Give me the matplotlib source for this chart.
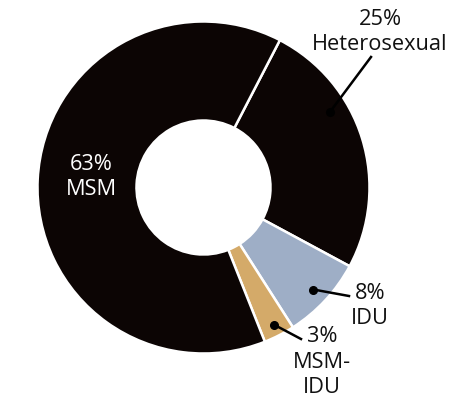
import matplotlib
matplotlib.use("Agg")
import matplotlib.pyplot as plt
import numpy as np

categories = ["Heterosexual", "IDU", "MSM-IDU", "MSM"]
values = [25, 8, 3, 63]
colors = ["#0c0504", "#9eaec6", "#d4aa69", "#0c0504"]

plt.rcParams['font.family'] = ['Open Sans', 'DejaVu Sans']

W, H = 462, 412
fig = plt.figure(figsize=(W / 100, H / 100), dpi=100)
ax = fig.add_axes([0, 0, 1, 1])

cx, cy = 203.5, H - 187.5
R, r_in = 166, 67
start = 62.6

wedges, _ = ax.pie(values, colors=colors, startangle=start, counterclock=False,
                   radius=R, center=(cx, cy), frame=True,
                   wedgeprops=dict(width=R - r_in, edgecolor='white', linewidth=1.8))
ax.set_xlim(0, W)
ax.set_ylim(0, H)
ax.set_aspect('equal')
ax.axis('off')

total = sum(values)
bounds = start - np.cumsum([0] + values) / total * 360
mids = (bounds[:-1] + bounds[1:]) / 2

def pt(ang, rad):
    a = np.deg2rad(ang)
    return cx + rad * np.cos(a), cy + rad * np.sin(a)

fs = 15.7
ls = 1.28
tc = '#111111'
# Heterosexual
p = pt(30.8, 147)
ax.plot(*p, 'o', color='black', ms=5.5, zorder=5)
ax.plot([p[0], 371], [p[1], H - 57], color='black', lw=1.8, zorder=5)
ax.text(380, H - 32, f"{values[0]}%\n{categories[0]}", ha='center', va='center',
        fontsize=fs, linespacing=ls, color=tc)

# IDU
p = pt(mids[1], 150)
ax.plot(*p, 'o', color='black', ms=5.5, zorder=5)
ax.plot([p[0], 349], [p[1], H - 296], color='black', lw=1.8, zorder=5)
ax.text(370, H - 306, f"{values[1]}%\n{categories[1]}", ha='center', va='center',
        fontsize=fs, linespacing=ls, color=tc)

# MSM-IDU
p = pt(mids[2], 154)
ax.plot(*p, 'o', color='black', ms=5.5, zorder=5)
ax.plot([p[0], 301], [p[1], H - 339], color='black', lw=1.8, zorder=5)
ax.text(322, H - 362, f"{values[2]}%\nMSM-\nIDU", ha='center', va='center',
        fontsize=fs, linespacing=ls, color=tc)

# MSM
ax.text(91, H - 177, f"{values[3]}%\n{categories[3]}", ha='center', va='center',
        fontsize=fs, linespacing=ls, color='white')

fig.savefig("out.png", dpi=100, facecolor='white')
